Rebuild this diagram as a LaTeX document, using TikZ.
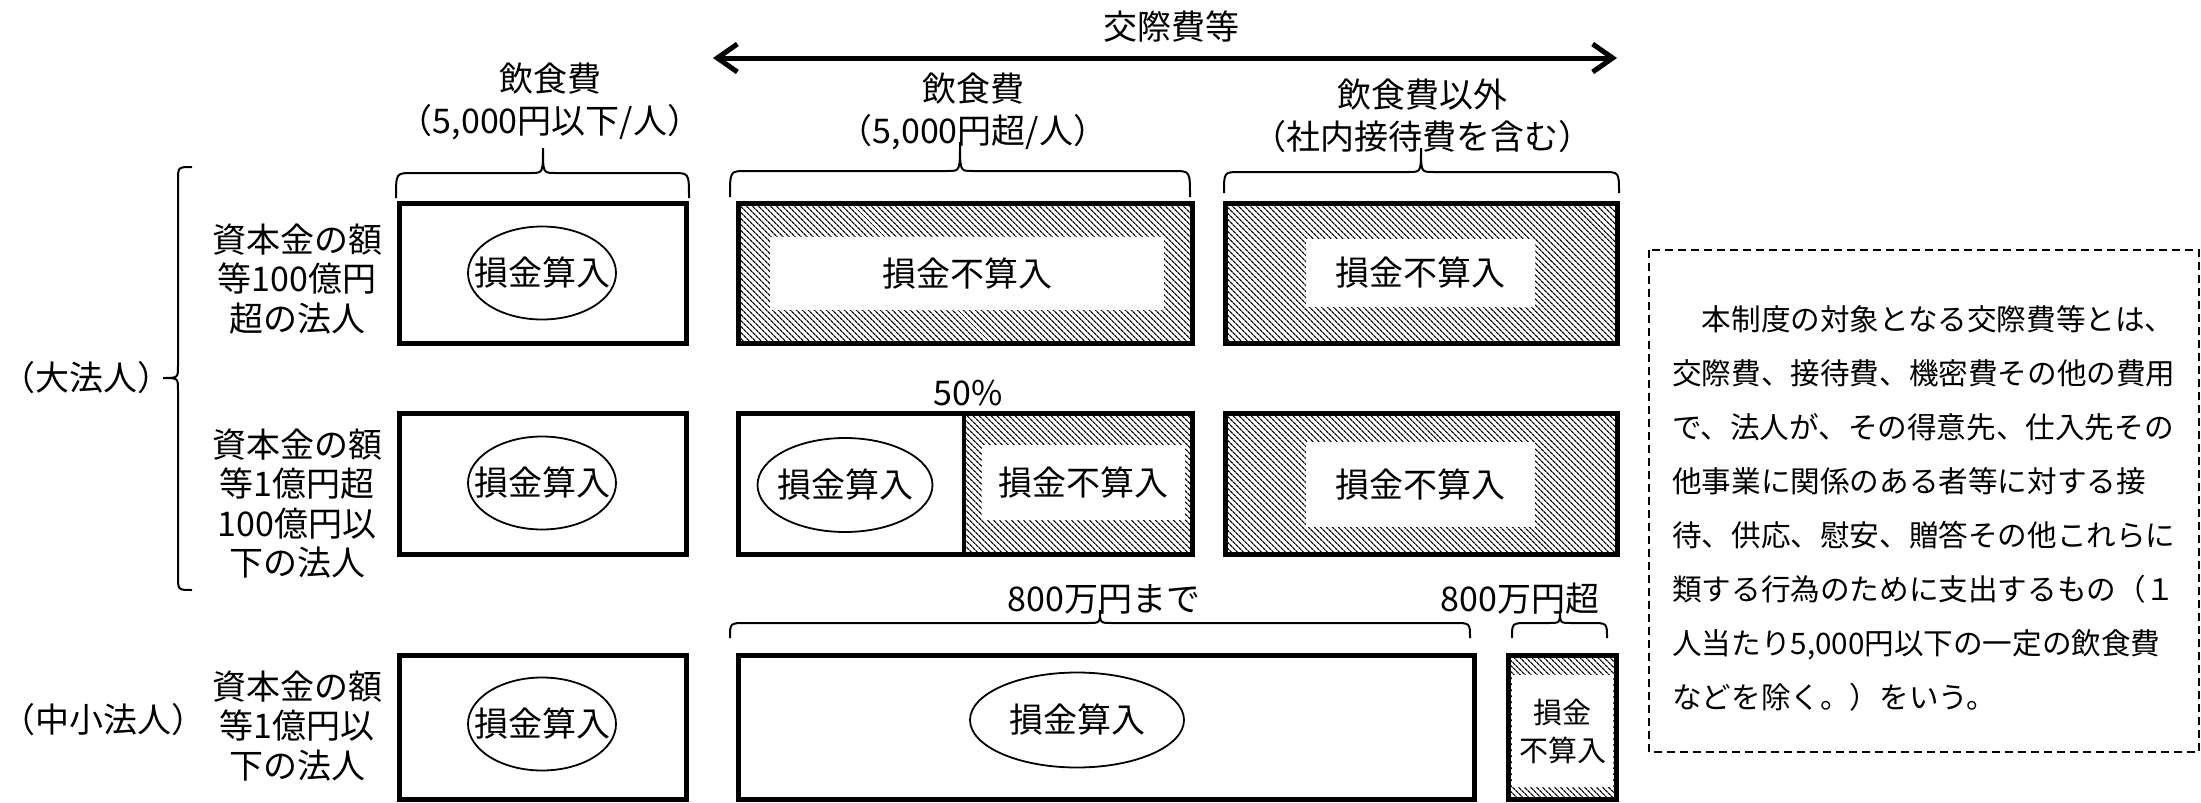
\documentclass[tikz,border=0pt]{standalone}
\usepackage{fontspec}
\setmainfont{Noto Sans CJK JP}
\usetikzlibrary{arrows.meta,patterns.meta,shapes.geometric}

\newcommand\lbl{\fontsize{34}{39.5}\selectfont}
\newcommand\hdr{\fontsize{34}{42}\selectfont}
\newcommand\sml{\fontsize{29}{38}\selectfont}
\newcommand\notefont{\fontsize{29.6}{54}\selectfont}

% brace over a box: x1, x2, tip x, base y, mid y, tip y
\newcommand\hbrc[6]{%
  \draw[brc] (#1,#4) .. controls (#1,#5) .. (#1+16,#5) -- (#3-12,#5)
    .. controls (#3,#5) .. (#3,#6) .. controls (#3,#5) .. (#3+12,#5)
    -- (#2-16,#5) .. controls (#2,#5) .. (#2,#4);}
% brace left of the rows: y1, y2, tip y, base x, mid x, tip x
\newcommand\vbrc[6]{%
  \draw[brc] (#4,#1) .. controls (#5,#1) .. (#5,#1+14) -- (#5,#3-12)
    .. controls (#5,#3) .. (#6,#3) .. controls (#5,#3) .. (#5,#3+12)
    -- (#5,#2-14) .. controls (#5,#2) .. (#4,#2);}

\begin{document}
\begin{tikzpicture}[x=1pt, y=-1pt,
  every node/.style={font=\lbl},
  cell/.style={draw, line width=5pt},
  hatch/.style={pattern={Lines[angle=-45, distance=4pt, line width=1.3pt]}},
  inoval/.style={ellipse, draw, line width=1.8pt, inner sep=0pt},
  blank/.style={fill=white, inner sep=0pt},
  grp/.style={anchor=west, inner sep=0pt},
  brc/.style={line width=2pt},
  barb/.tip={Straight Barb[length=20pt, width=28pt]}]
\useasboundingbox (0,0) rectangle (2201,803);

% whole range
\node (title) at (1171,27) {交際費等};
\coordinate (al) at (713,58);
\coordinate (ar) at (1617,58);
\draw[line width=5pt, barb-barb] (al) -- (ar);

% column heads
\node[align=center, font=\hdr] (h1) at (550,101) {飲食費\\（5,000円以下/人）};
\node[align=center, font=\hdr] (h2) at (973,111) {飲食費\\（5,000円超/人）};
\node[align=center, font=\hdr] (h3) at (1422,116) {飲食費以外\\（社内接待費を含む）};
\hbrc{396}{689}{543}{198}{173}{148}
\hbrc{730}{1190}{960}{197}{171}{142}
\hbrc{1224}{1619}{1421}{193}{172}{148}

% row heads
\node[grp] (big) at (1,378) {（大法人）};
\vbrc{167}{590}{378}{192}{178}{163}
\node[grp] (sme) at (1,720) {（中小法人）};
\node[align=center] (k1) at (297,279) {資本金の額\\等100億円\\超の法人};
\node[align=center] (k2) at (297,503.5) {資本金の額\\等1億円超\\100億円以\\下の法人};
\node[align=center] (k3) at (297,726) {資本金の額\\等1億円以\\下の法人};

% row 1
\draw[cell] (399,203) rectangle (686,343);
\node[inoval, minimum width=148pt, minimum height=93pt, label=center:{損金算入}] (o11) at (542,273) {};
\fill[hatch] (738,203) rectangle (1192,343);
\node[blank, minimum width=394pt, minimum height=73pt] (n12) at (967,273.5) {損金不算入};
\draw[cell] (738,203) rectangle (1192,343);
\fill[hatch] (1225,203) rectangle (1617,343);
\node[blank, minimum width=229pt, minimum height=68pt] (n13) at (1420.5,273) {損金不算入};
\draw[cell] (1225,203) rectangle (1617,343);

% row 2
\node (pct) at (968,393) {50\%};
\draw[cell] (399,413) rectangle (686,554);
\node[inoval, minimum width=148pt, minimum height=93pt, label=center:{損金算入}] (o21) at (542,483) {};
\fill[hatch] (964,413) rectangle (1192,554);
\node[blank, minimum width=203pt, minimum height=75pt] (n22) at (1083.5,482.5) {損金不算入};
\draw[cell] (738,413) rectangle (1192,554);
\draw[line width=4pt] (964,413) -- (964,554);
\node[inoval, minimum width=175pt, minimum height=94pt, label=center:{損金算入}] (o22) at (845,485) {};
\fill[hatch] (1225,413) rectangle (1617,554);
\node[blank, minimum width=229pt, minimum height=85pt] (n23) at (1420.5,484.5) {損金不算入};
\draw[cell] (1225,413) rectangle (1617,554);

% row 3
\node (upto) at (1104,599) {800万円まで};
\node (over) at (1520,599) {800万円超};
\hbrc{730}{1470}{1100}{638}{623}{610}
\hbrc{1512}{1607}{1560}{638}{623}{612}
\draw[cell] (399,655) rectangle (686,799);
\node[inoval, minimum width=148pt, minimum height=93pt, label=center:{損金算入}] (o31) at (542,724) {};
\draw[cell] (738,655) rectangle (1474,799);
\node[inoval, minimum width=214pt, minimum height=95pt, label=center:{損金算入}] (o32) at (1077,720) {};
\fill[hatch] (1508,655) rectangle (1616,799);
\node[blank, align=center, font=\sml, minimum width=101pt, minimum height=112pt] (n34) at (1562.5,731) {損金\\不算入};
\draw[cell] (1508,655) rectangle (1616,799);

% note
\draw[dashed, line width=1.5pt, dash pattern=on 8pt off 5pt] (1649,250) rectangle (2199,752);
\node[anchor=west, align=left, font=\notefont, inner sep=0pt] (note) at (1672,508.5)
  {　本制度の対象となる交際費等とは、\\交際費、接待費、機密費その他の費用\\で、法人が、その得意先、仕入先その\\他事業に関係のある者等に対する接\\待、供応、慰安、贈答その他これらに\\類する行為のために支出するもの（１\\人当たり5,000円以下の一定の飲食費\\などを除く。）をいう。};
\end{tikzpicture}
\end{document}
